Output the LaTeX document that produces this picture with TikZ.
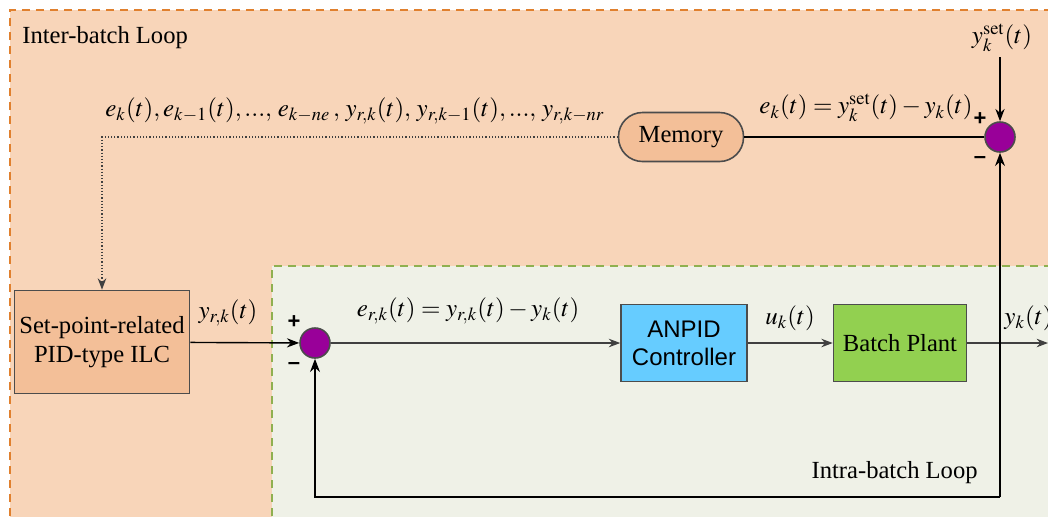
\documentclass[tikz,border=0pt]{standalone}
\usepackage{mathptmx}
\usepackage{fontspec}
\setmainfont{Liberation Serif}
\setsansfont{Liberation Sans}
\usetikzlibrary{positioning, arrows.meta}
\definecolor{interfill}{HTML}{F8D5B9}
\definecolor{interline}{HTML}{E0802E}
\definecolor{intrafill}{HTML}{EFF1E7}
\definecolor{intraline}{HTML}{8FB050}
\definecolor{ilcfill}{HTML}{F3BF98}
\definecolor{anpidfill}{HTML}{66CCFF}
\definecolor{plantfill}{HTML}{92D050}
\definecolor{sumfill}{HTML}{990099}

\begin{document}
\begin{tikzpicture}[x=0.5pt, y=-0.5pt, >=Stealth,
  block/.style={draw=black!70, line width=0.8pt, align=center, inner sep=1pt},
  sumnode/.style={circle, draw=black!70, line width=0.8pt, fill=sumfill, minimum size=15pt, inner sep=0pt},
  sig/.style={->, black!75, line width=0.6pt},
  fb/.style={->, black, line width=0.8pt},
  sign/.style={font=\sffamily\bfseries\fontsize{11}{11}\selectfont, inner sep=0pt},
  lbl/.style={font=\fontsize{12.5}{14}\selectfont, inner sep=0pt}]
  \useasboundingbox (0,0) rectangle (1048,516);
  \fontsize{12.3}{14.5}\selectfont
  % inter-batch loop
  \fill[interfill] (10,10) rectangle (1060,530);
  \draw[interline, line width=1pt, dash pattern=on 4pt off 3pt] (10,530) -- (10,10) -- (1060,10);
  \node[anchor=west, inner sep=0pt] (interlbl) at (22,38) {Inter-batch Loop};
  % intra-batch loop
  \fill[intrafill] (272,266) rectangle (1060,530);
  \draw[intraline, line width=0.8pt, dash pattern=on 4pt off 3pt] (272,530) -- (272,266) -- (1060,266);
  \node[anchor=east, inner sep=0pt] (intralbl) at (978,473) {Intra-batch Loop};
  % blocks
  \node[block, fill=ilcfill, minimum width=87.5pt, minimum height=51.5pt] (ilc) at (102,342) {Set-point-related\\PID-type ILC};
  \node[block, fill=anpidfill, minimum width=63pt, minimum height=38.5pt, font=\sffamily\fontsize{12}{14}\selectfont] (anpid) at (684,343) {ANPID\\Controller};
  \node[block, fill=plantfill, minimum width=66.5pt, minimum height=38.5pt] (plant) at (900,343) {Batch Plant};
  \node[block, fill=ilcfill, rounded corners=12pt, minimum width=62.5pt, minimum height=24.5pt] (mem) at (681,137) {Memory};
  % summing junctions
  \node[sumnode] (sumin) at (315,343) {};
  \node[sumnode] (sumout) at (1000,137) {};
  \node[sign] at (294,322) {+};
  \node[sign] at (294,366) {--};
  \node[sign] at (980,119) {+};
  \node[sign] at (980,160) {--};
  \coordinate (ysetin) at (1000,57);
  \coordinate (yout) at (1048,343);
  \coordinate (fbcorner) at (1000,497);
  \node[lbl] (ysetlbl) at (1002,38) {$y_k^{\mathrm{set}}(t)$};
  % forward path
  \draw[fb, line width=0.7pt] (ilc) -- (sumin);
  \draw[sig] (sumin) -- (anpid);
  \draw[sig] (anpid) -- (plant);
  \draw[sig] (plant) -- (yout);
  \draw[fb, line width=0.7pt] (ysetin) -- (sumout);
  \draw[black, line width=0.8pt] (mem) -- (sumout);
  \draw[->, densely dotted, black!75, line width=0.6pt] (mem) -| (ilc);
  % feedback
  \draw[fb] (fbcorner) -- (sumout);
  \draw[fb] (fbcorner) -| (sumin);
  % signal labels
  \node[lbl] at (228,313) {$y_{r,k}(t)$};
  \node[lbl] at (468,311) {$e_{r,k}(t)=y_{r,k}(t)-y_k(t)$};
  \node[lbl] at (790,318) {$u_k(t)$};
  \node[lbl, anchor=west] at (1004,318) {$y_k(t)$};
  \node[lbl] at (866,108) {$e_k(t)=y_k^{\mathrm{set}}(t)-y_k(t)$};
  \node[lbl] at (355,111) {$e_k(t),e_{k-1}(t),...,\,e_{k-ne}\,,\,y_{r,k}(t),\,y_{r,k-1}(t),...,\,y_{r,k-nr}$};
\end{tikzpicture}
\end{document}
